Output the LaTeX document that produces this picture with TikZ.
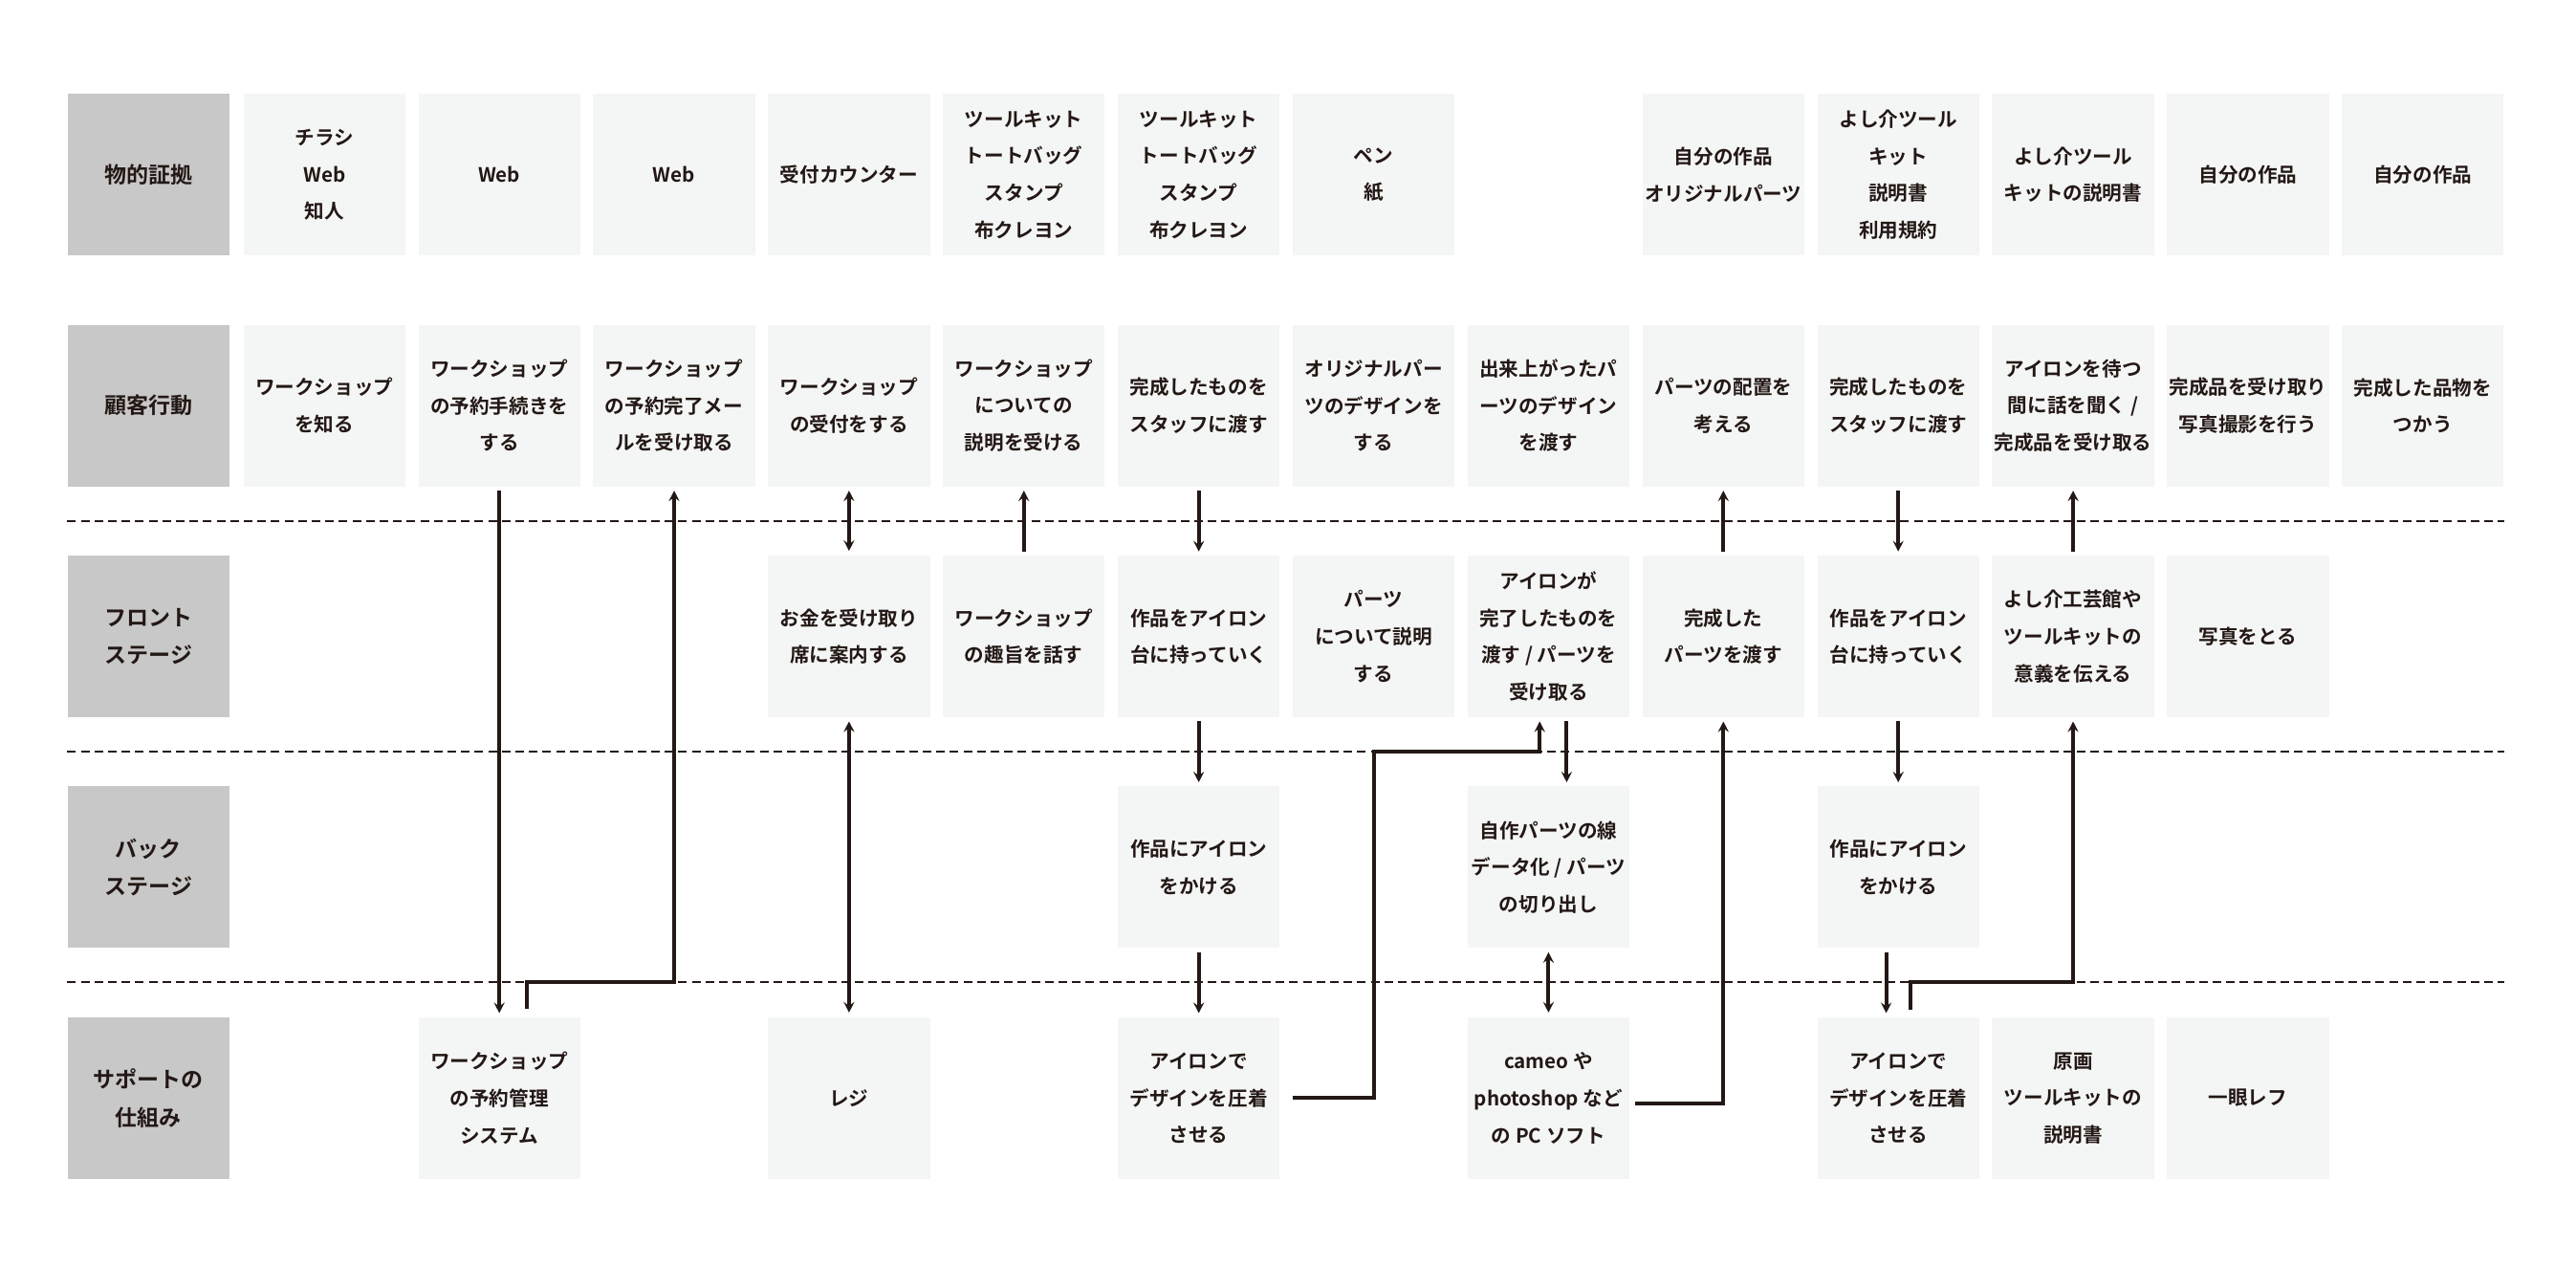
\documentclass[tikz,border=0pt]{standalone}
\usepackage{fontspec}
\newfontfamily\jpb{Noto Sans CJK JP Bold}
\usetikzlibrary{arrows.meta}
\definecolor{ink}{HTML}{231815}
\definecolor{boxbg}{HTML}{F4F6F5}
\definecolor{lblbg}{HTML}{C8C8C8}
\begin{document}
\begin{tikzpicture}[x=0.859pt,y=-0.859pt,
  cell/.style={fill=boxbg, minimum width=84.6pt, minimum height=84.5pt, inner sep=0pt,
    align=center, anchor=north west, text=ink,
    font=\jpb\fontsize{10.3}{19.3}\selectfont},
  lbl/.style={cell, fill=lblbg, font=\jpb\fontsize{11.5}{19.8}\selectfont},
  sep/.style={draw=ink, line width=1pt, dash pattern=on 4.5pt off 2.6pt},
  conn/.style={draw=ink, line width=2pt},
  tip/.style={-{Stealth[length=5.5pt,width=5.6pt,inset=2pt]}},
  arr/.style={conn, tip, shorten <=2pt, shorten >=2pt},
  darr/.style={conn, {Stealth[length=5.5pt,width=5.6pt,inset=2pt]}-{Stealth[length=5.5pt,width=5.6pt,inset=2pt]}, shorten <=2pt, shorten >=2.3pt}
]
\useasboundingbox (0,0) rectangle (1568.1,770.7);

% row labels
\node[lbl] (l1) at (41,57) {物的証拠};
\node[lbl] (l2) at (41,197.5) {顧客行動};
\node[lbl] (l3) at (41,338) {フロント\\ステージ};
\node[lbl] (l4) at (41,478.5) {バック\\ステージ};
\node[lbl] (l5) at (41,619) {サポートの\\仕組み};

% row 1: physical evidence
\node[cell] (r1c1) at (148,57) {チラシ\\Web\\知人};
\node[cell] (r1c2) at (254.45,57) {Web};
\node[cell] (r1c3) at (360.9,57) {Web};
\node[cell] (r1c4) at (467.35,57) {受付カウンター};
\node[cell] (r1c5) at (573.8,57) {ツールキット\\トートバッグ\\スタンプ\\布クレヨン};
\node[cell] (r1c6) at (680.25,57) {ツールキット\\トートバッグ\\スタンプ\\布クレヨン};
\node[cell] (r1c7) at (786.7,57) {ペン\\紙};
\node[cell] (r1c9) at (999.6,57) {自分の作品\\オリジナルパーツ};
\node[cell] (r1c10) at (1106.05,57) {よし介ツール\\キット\\説明書\\利用規約};
\node[cell] (r1c11) at (1212.5,57) {よし介ツール\\キットの説明書};
\node[cell] (r1c12) at (1318.95,57) {自分の作品};
\node[cell] (r1c13) at (1425.4,57) {自分の作品};

% row 2: customer actions
\node[cell] (r2c1) at (148,197.5) {ワークショップ\\を知る};
\node[cell] (r2c2) at (254.45,197.5) {ワークショップ\\の予約手続きを\\する};
\node[cell] (r2c3) at (360.9,197.5) {ワークショップ\\の予約完了メー\\ルを受け取る};
\node[cell] (r2c4) at (467.35,197.5) {ワークショップ\\の受付をする};
\node[cell] (r2c5) at (573.8,197.5) {ワークショップ\\についての\\説明を受ける};
\node[cell] (r2c6) at (680.25,197.5) {完成したものを\\スタッフに渡す};
\node[cell] (r2c7) at (786.7,197.5) {オリジナルパー\\ツのデザインを\\する};
\node[cell] (r2c8) at (893.15,197.5) {出来上がったパ\\ーツのデザイン\\を渡す};
\node[cell] (r2c9) at (999.6,197.5) {パーツの配置を\\考える};
\node[cell] (r2c10) at (1106.05,197.5) {完成したものを\\スタッフに渡す};
\node[cell] (r2c11) at (1212.5,197.5) {アイロンを待つ\\間に話を聞く /\\完成品を受け取る};
\node[cell] (r2c12) at (1318.95,197.5) {完成品を受け取り\\写真撮影を行う};
\node[cell] (r2c13) at (1425.4,197.5) {完成した品物を\\つかう};

% row 3: front stage
\node[cell] (r3c4) at (467.35,338) {お金を受け取り\\席に案内する};
\node[cell] (r3c5) at (573.8,338) {ワークショップ\\の趣旨を話す};
\node[cell] (r3c6) at (680.25,338) {作品をアイロン\\台に持っていく};
\node[cell] (r3c7) at (786.7,338) {パーツ\\について説明\\する};
\node[cell] (r3c8) at (893.15,338) {アイロンが\\完了したものを\\渡す / パーツを\\受け取る};
\node[cell] (r3c9) at (999.6,338) {完成した\\パーツを渡す};
\node[cell] (r3c10) at (1106.05,338) {作品をアイロン\\台に持っていく};
\node[cell] (r3c11) at (1212.5,338) {よし介工芸館や\\ツールキットの\\意義を伝える};
\node[cell] (r3c12) at (1318.95,338) {写真をとる};

% row 4: back stage
\node[cell] (r4c6) at (680.25,478.5) {作品にアイロン\\をかける};
\node[cell] (r4c8) at (893.15,478.5) {自作パーツの線\\データ化 / パーツ\\の切り出し};
\node[cell] (r4c10) at (1106.05,478.5) {作品にアイロン\\をかける};

% row 5: support systems
\node[cell] (r5c2) at (254.45,619) {ワークショップ\\の予約管理\\システム};
\node[cell] (r5c4) at (467.35,619) {レジ};
\node[cell] (r5c6) at (680.25,619) {アイロンで\\デザインを圧着\\させる};
\node[cell] (r5c8) at (893.15,619) {cameo や\\photoshop など\\の PC ソフト};
\node[cell] (r5c10) at (1106.05,619) {アイロンで\\デザインを圧着\\させる};
\node[cell] (r5c11) at (1212.5,619) {原画\\ツールキットの\\説明書};
\node[cell] (r5c12) at (1318.95,619) {一眼レフ};

% separator lines
\coordinate (d1) at (41,317);
\coordinate (d2) at (41,457.5);
\coordinate (d3) at (41,598);
\draw[sep] (d1) -- (d1 -| r1c13.east);
\draw[sep] (d2) -- (d2 -| r1c13.east);
\draw[sep] (d3) -- (d3 -| r1c13.east);

% connectors
\draw[arr] (r2c2.south) -- (r5c2.north);
\draw[conn, tip, shorten >=2pt] ([xshift=14.2pt,yshift=4pt]r5c2.north) |- (r2c3.south |- d3) -- (r2c3.south);
\draw[darr] (r2c4.south) -- (r3c4.north);
\draw[darr] (r3c4.south) -- (r5c4.north);
\draw[arr] (r3c5.north) -- (r2c5.south);
\draw[arr] (r2c6.south) -- (r3c6.north);
\draw[arr] (r3c6.south) -- (r4c6.north);
\draw[arr] (r4c6.south) -- (r5c6.north);
\draw[conn, tip, shorten >=2pt] ([xshift=6.5pt]r5c6.east) -| (r3c7.south |- d2) -| ([xshift=-4.6pt]r3c8.south);
\draw[arr] ([xshift=9.5pt]r3c8.south) -- ([xshift=9.5pt]r4c8.north);
\draw[darr] (r4c8.south) -- (r5c8.north);
\draw[conn, tip, shorten >=2pt] ([xshift=3pt,yshift=-2.6pt]r5c8.east) -| (r3c9.south);
\draw[arr] (r3c9.north) -- (r2c9.south);
\draw[arr] (r2c10.south) -- (r3c10.north);
\draw[arr] (r3c10.south) -- (r4c10.north);
\draw[arr] ([xshift=-6.3pt]r4c10.south) -- ([xshift=-6.3pt]r5c10.north);
\draw[conn, tip, shorten >=2pt] ([xshift=6.6pt,yshift=3.5pt]r5c10.north) |- (r3c11.south |- d3) -- (r3c11.south);
\draw[arr] (r3c11.north) -- (r2c11.south);
\end{tikzpicture}
\end{document}
